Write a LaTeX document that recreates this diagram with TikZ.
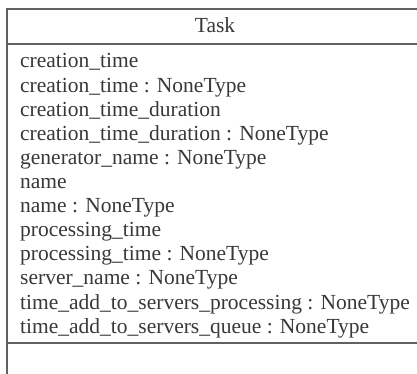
\documentclass[tikz,border=0pt]{standalone}
\usepackage{fontspec}
\setmainfont{Liberation Serif}
\usepackage{tikz}

\tikzset{
  umltext/.style={inner sep=0pt, text=black!78, font=\fontsize{21.5}{24.1}\selectfont},
  umlline/.style={draw=black!62, line width=1.5pt}
}

\begin{document}
\begin{tikzpicture}[x=1pt, y=1pt]
\useasboundingbox (0,0) rectangle (417,-374);
\clip (0,0) rectangle (417,-374);
% class box, its right and lower sides run past the picture
\draw[umlline] (7,-9) rectangle (440,-400);
\draw[umlline] (7,-44) -- (440,-44);
\draw[umlline] (7,-343) -- (440,-343);

% class name
\node[umltext, anchor=base] (taskname) at (215,-33) {Task};

% attributes, one line each
\foreach \attr [count=\i] in {%
  creation\_time,
  creation\_time : NoneType,
  creation\_time\_duration,
  creation\_time\_duration : NoneType,
  generator\_name : NoneType,
  name,
  name : NoneType,
  processing\_time,
  processing\_time : NoneType,
  server\_name : NoneType,
  time\_add\_to\_servers\_processing : NoneType,
  time\_add\_to\_servers\_queue : NoneType}
  \node[umltext, anchor=base west] (attr\i) at (20,{-68-24.1*(\i-1)}) {\attr};
\end{tikzpicture}
\end{document}
